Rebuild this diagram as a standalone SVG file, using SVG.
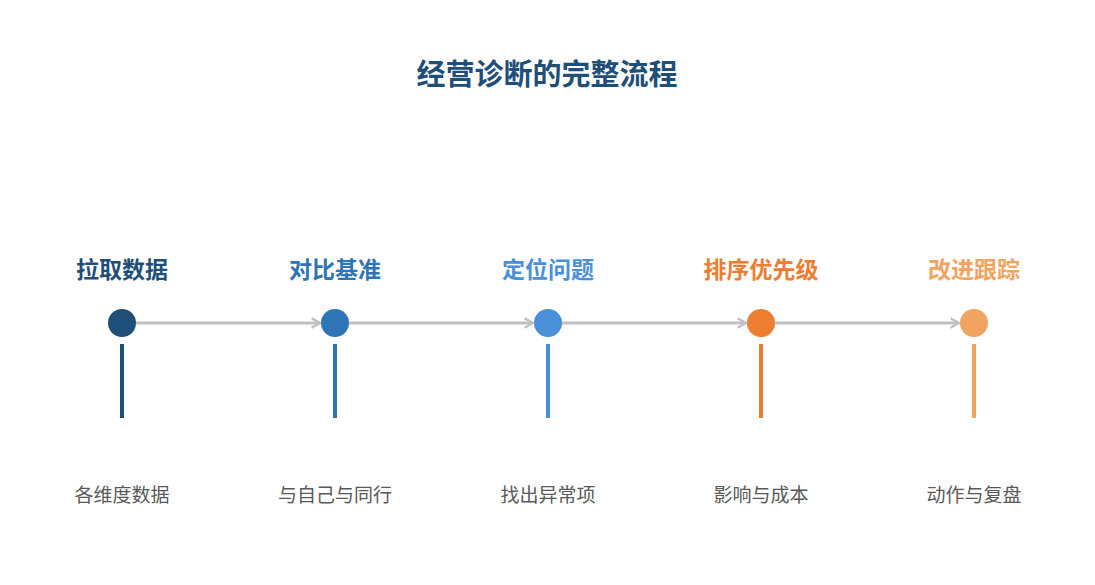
<svg xmlns="http://www.w3.org/2000/svg" width="1095" height="585" viewBox="0 0 1095 585">
<style>
text{font-family:"Noto Sans CJK SC","Liberation Sans",sans-serif;text-anchor:middle}
.title{font-size:29px;font-weight:bold;fill:#1f4e79}
.lbl{font-size:23px;font-weight:bold}
.sub{font-size:19px;fill:#595959}
.conn{stroke:#c0c0c0;stroke-width:3;fill:none;marker-end:url(#ah)}
.stem{stroke-width:4}
</style>
<defs>
<marker id="ah" viewBox="0 0 10 10" refX="8" refY="5" markerWidth="4" markerHeight="4" orient="auto" markerUnits="strokeWidth">
<path d="M1,1 L8,5 L1,9" fill="none" stroke="#c0c0c0" stroke-width="2"/>
</marker>
</defs>
<rect width="1095" height="585" fill="#ffffff"/>
<text class="title" x="547" y="85">经营诊断的完整流程</text>
<g id="connectors">
<line class="conn" x1="136" y1="323" x2="320" y2="323"/>
<line class="conn" x1="349" y1="323" x2="533" y2="323"/>
<line class="conn" x1="562" y1="323" x2="746" y2="323"/>
<line class="conn" x1="775" y1="323" x2="959" y2="323"/>
</g>
<g id="node1">
<text class="lbl" x="122" y="278" fill="#1f4e79">拉取数据</text>
<circle cx="122" cy="323" r="14" fill="#1f4e79"/>
<line class="stem" x1="122" y1="344" x2="122" y2="418" stroke="#1f4e79"/>
<text class="sub" x="122" y="502">各维度数据</text>
</g>
<g id="node2">
<text class="lbl" x="335" y="278" fill="#2e75b6">对比基准</text>
<circle cx="335" cy="323" r="14" fill="#2e75b6"/>
<line class="stem" x1="335" y1="344" x2="335" y2="418" stroke="#2e75b6"/>
<text class="sub" x="335" y="502">与自己与同行</text>
</g>
<g id="node3">
<text class="lbl" x="548" y="278" fill="#4a90d9">定位问题</text>
<circle cx="548" cy="323" r="14" fill="#4a90d9"/>
<line class="stem" x1="548" y1="344" x2="548" y2="418" stroke="#4a90d9"/>
<text class="sub" x="548" y="502">找出异常项</text>
</g>
<g id="node4">
<text class="lbl" x="761" y="278" fill="#ed7d31">排序优先级</text>
<circle cx="761" cy="323" r="14" fill="#ed7d31"/>
<line class="stem" x1="761" y1="344" x2="761" y2="418" stroke="#ed7d31"/>
<text class="sub" x="761" y="502">影响与成本</text>
</g>
<g id="node5">
<text class="lbl" x="974" y="278" fill="#f0a460">改进跟踪</text>
<circle cx="974" cy="323" r="14" fill="#f0a460"/>
<line class="stem" x1="974" y1="344" x2="974" y2="418" stroke="#f0a460"/>
<text class="sub" x="974" y="502">动作与复盘</text>
</g>
</svg>
